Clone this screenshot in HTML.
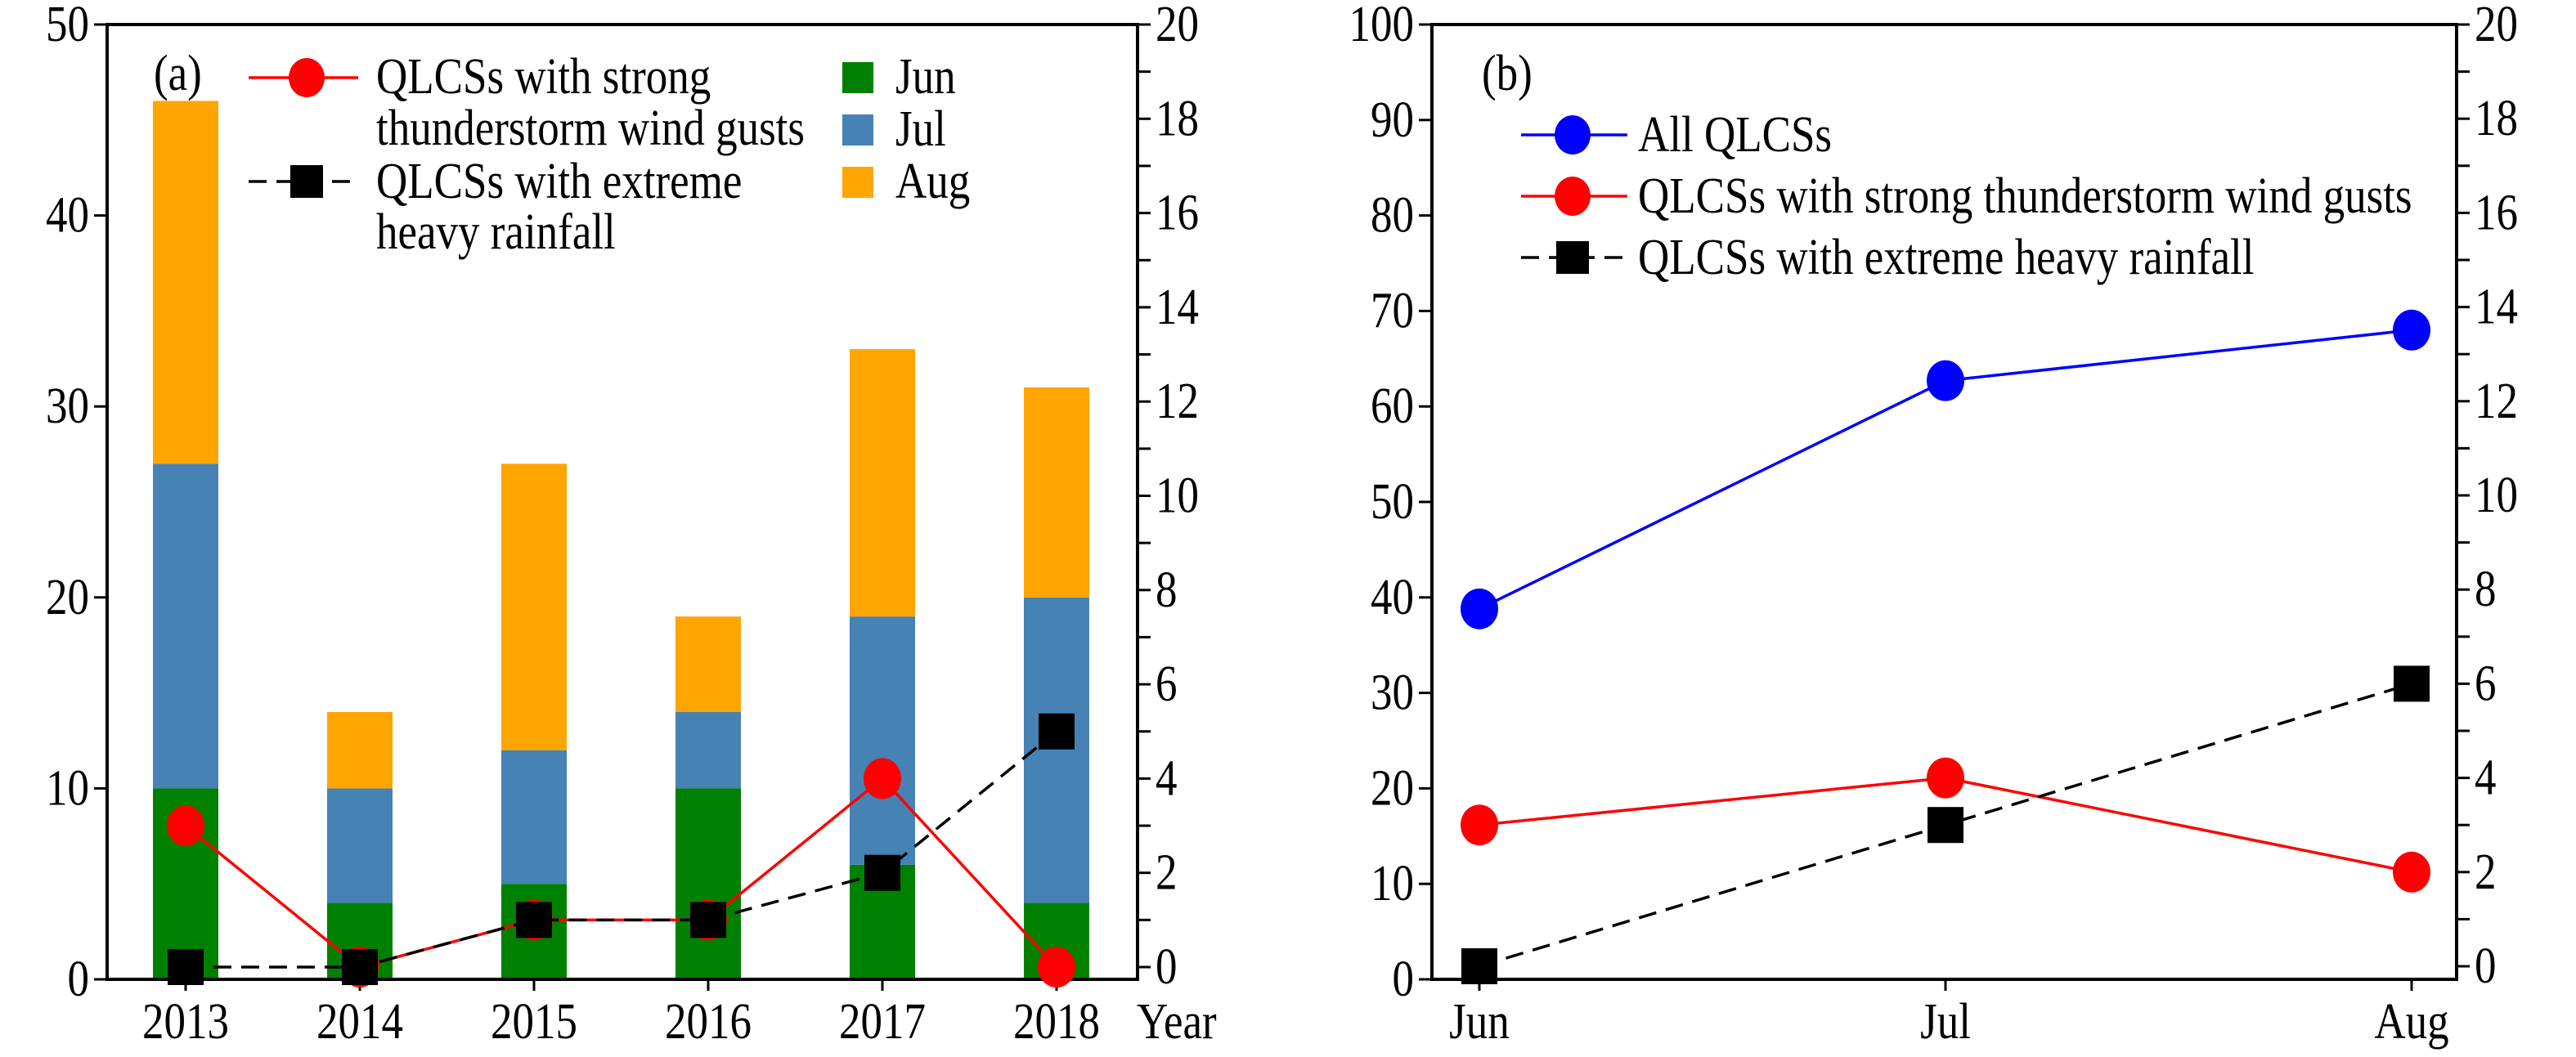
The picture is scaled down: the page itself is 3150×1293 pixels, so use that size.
<!DOCTYPE html>
<html><head><meta charset="utf-8"><style>
html,body{margin:0;padding:0;background:#fff}
svg text{font-family:"Liberation Serif","DejaVu Serif",serif;font-size:50px;fill:#000}
</style></head><body>
<svg id="chart" width="3150" height="1288" viewBox="0 0 3150 1288" xmlns="http://www.w3.org/2000/svg"></svg>
<script>
const years = ["2013","2014","2015","2016","2017","2018"];
const junVals = [10,4,5,10,6,4];
const julVals = [17,6,7,4,13,16];
const augVals = [19,4,15,5,14,11];
const gustA = [3,0,1,1,4,0];
const rainA = [0,0,1,1,2,5];
const months = ["Jun","Jul","Aug"];
const allB = [38.8,62.7,68];
const gustB = [3,4,2];
const rainB = [0,3,6];
const leftTicksA = [0,10,20,30,40,50];
const leftTicksB = [0,10,20,30,40,50,60,70,80,90,100];
const rightTicks = [0,2,4,6,8,10,12,14,16,18,20];

const NS="http://www.w3.org/2000/svg";
const svg=document.getElementById('chart');
function mk(tag,attrs,parent){const e=document.createElementNS(NS,tag);for(const k in attrs)e.setAttribute(k,attrs[k]);(parent||svg).appendChild(e);return e;}
function txt(s,x,y,anchor,parent){const t=mk('text',{x:0,y:0,'text-anchor':anchor||'start',transform:'translate('+x+','+y+') scale(1.06,1.25)'},parent);t.textContent=s;return t;}

function panel(cfg){
  const g=mk('g',{});
  
  
  const L=cfg.L,R=cfg.R,T=30,B=1198,RB=cfg.RB;
  const yL=v=>B-(v/cfg.lmax)*(B-T);
  const yR=v=>RB-(v/20)*(RB-T);
  const xC=i=>cfg.x0+i*cfg.dx;
  if(cfg.bars){
    const bw=80;
    cfg.cats.forEach((c,i)=>{
      let base=0;
      [[junVals,'#008000','jun'],[julVals,'#4682B4','jul'],[augVals,'#FFA500','aug']].forEach(([arr,col,nm])=>{
        const v=arr[i];
        const r=mk('rect',{x:xC(i)-bw/2,y:yL(base+v),width:bw,height:yL(base)-yL(base+v),fill:col},g);
        
        
        base+=v;
      });
    });
  }
  const fr=mk('rect',{x:L,y:T,width:R-L,height:B-T,fill:'none',stroke:'#000','stroke-width':4},g);
  
  
  cfg.lticks.forEach(v=>{
    mk('line',{x1:L-16,x2:L,y1:yL(v),y2:yL(v),stroke:'#000','stroke-width':3},g);
    const t=txt(String(v),L-22,yL(v)+20,'end',g);
    
    
  });
  for(let v=0;v<=20;v++){
    mk('line',{x1:R,x2:R+16,y1:yR(v),y2:yR(v),stroke:'#000','stroke-width':3},g);
  }
  rightTicks.forEach(v=>{
    const t=txt(String(v),R+22,yR(v)+20,'start',g);
    
    
  });
  cfg.cats.forEach((c,i)=>{
    mk('line',{x1:xC(i),x2:xC(i),y1:B,y2:B+14,stroke:'#000','stroke-width':3},g);
    const t=txt(c,xC(i),B+72,'middle',g);
    
    
  });
  cfg.series.forEach(s=>{
    const pts=s.vals.map((v,i)=>[xC(i),s.axis==='L'?yL(v):yR(v)]);
    const pl=mk('polyline',{points:pts.map(p=>p.join(',')).join(' '),fill:'none',stroke:s.color,'stroke-width':3.5,'stroke-dasharray':s.dash||'none'},g);
    
    
    pts.forEach(p=>{
      let m;
      if(s.marker==='circle') m=mk('ellipse',{cx:p[0],cy:p[1],rx:23,ry:25,fill:s.color},g);
      else m=mk('rect',{x:p[0]-22,y:p[1]-22,width:44,height:44,fill:'#000'},g);
      
      
    });
  });
  return g;
}

const pa=panel({name:'panel-a',L:131,R:1391,RB:1183,lmax:50,x0:227,dx:213,cats:years,bars:true,lticks:leftTicksA,
  series:[{name:'gust-a',vals:gustA,axis:'R',color:'#ff0000',marker:'circle'},
          {name:'rain-a',vals:rainA,axis:'R',color:'#000',marker:'square',dash:'22,12'}]});
const pb=panel({name:'panel-b',L:1751,R:3004,RB:1182,lmax:100,x0:1809,dx:570,cats:months,bars:false,lticks:leftTicksB,
  series:[{name:'all-b',vals:allB,axis:'L',color:'#0000ff',marker:'circle'},
          {name:'gust-b',vals:gustB,axis:'R',color:'#ff0000',marker:'circle'},
          {name:'rain-b',vals:rainB,axis:'R',color:'#000',marker:'square',dash:'22,12'}]});

let t=txt('Year',1390,1270,'start');
t=txt('(a)',188,110,'start');
t=txt('(b)',1812,110,'start');

const la=mk('g',{});


mk('line',{x1:304,x2:438,y1:95,y2:95,stroke:'#f00','stroke-width':3.5},la);
mk('ellipse',{cx:375,cy:95,rx:22,ry:24,fill:'#f00'},la);
txt('QLCSs with strong',460,114,'start',la);
txt('thunderstorm wind gusts',460,177,'start',la);
mk('line',{x1:304,x2:438,y1:222,y2:222,stroke:'#000','stroke-width':3.5,'stroke-dasharray':'22,12'},la);
mk('rect',{x:355,y:202,width:40,height:40,fill:'#000'},la);
txt('QLCSs with extreme',460,242,'start',la);
txt('heavy rainfall',460,304,'start',la);
[['#008000','Jun',76],['#4682B4','Jul',140],['#FFA500','Aug',204]].forEach(([c,l,y])=>{
  const r=mk('rect',{x:1030,y:y,width:38,height:38,fill:c},la);
  
  
  txt(l,1095,y+38,'start',la);
});
const lb=mk('g',{});


[['#00f','All QLCSs',165,'c'],['#f00','QLCSs with strong thunderstorm wind gusts',240,'c'],['#000','QLCSs with extreme heavy rainfall',315,'s']].forEach(([c,l,y,m])=>{
  mk('line',{x1:1860,x2:1990,y1:y,y2:y,stroke:c,'stroke-width':3.5,'stroke-dasharray':m==='s'?'22,12':'none'},lb);
  if(m==='c') mk('ellipse',{cx:1923,cy:y,rx:22,ry:24,fill:c},lb);
  else mk('rect',{x:1903,y:y-20,width:40,height:40,fill:c},lb);
  txt(l,2003,y+20,'start',lb);
});
</script>
</body></html>
